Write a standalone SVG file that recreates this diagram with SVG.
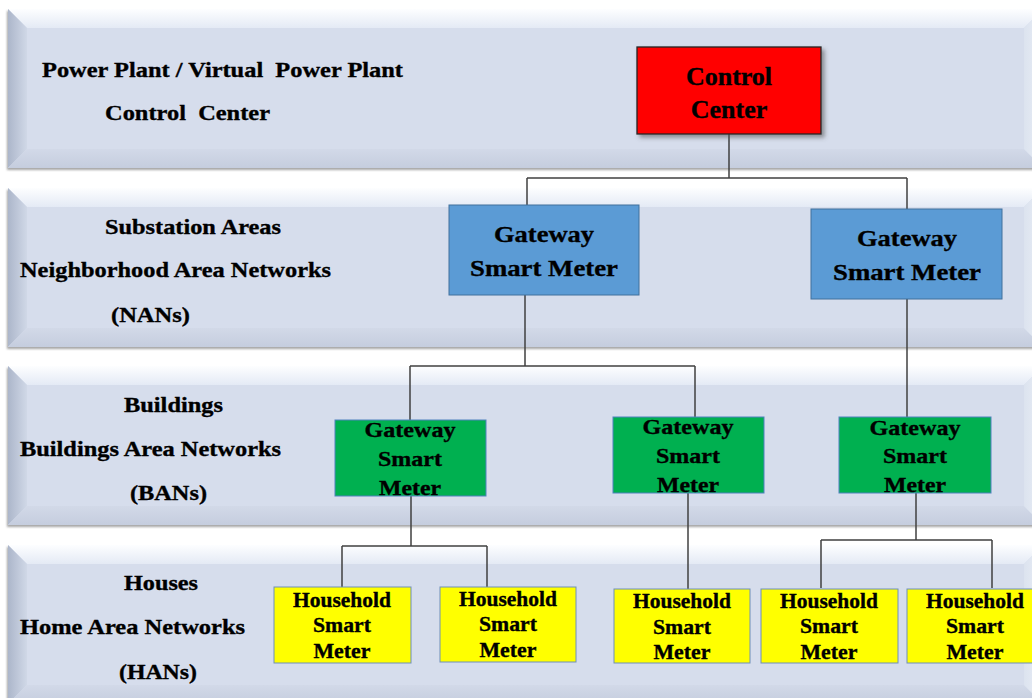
<svg xmlns="http://www.w3.org/2000/svg" width="1032" height="698" viewBox="0 0 1032 698">
  <defs>
    <linearGradient id="gTop" x1="0" y1="0" x2="0" y2="1">
      <stop offset="0" stop-color="#FDFEFF"/>
      <stop offset="1" stop-color="#E4EAF5"/>
    </linearGradient>
    <linearGradient id="gLeft" x1="0" y1="0" x2="1" y2="0">
      <stop offset="0" stop-color="#ACB6CA"/>
      <stop offset="1" stop-color="#D0D8E7"/>
    </linearGradient>
    <linearGradient id="gBottom" x1="0" y1="0" x2="0" y2="1">
      <stop offset="0" stop-color="#D2D9E8"/>
      <stop offset="1" stop-color="#C5CDDE"/>
    </linearGradient>
    <linearGradient id="gRight" x1="0" y1="0" x2="1" y2="0">
      <stop offset="0" stop-color="#DCE3EF"/>
      <stop offset="1" stop-color="#E9EEF6"/>
    </linearGradient>
    <filter id="bandShadow" x="-5%" y="-10%" width="110%" height="125%">
      <feDropShadow dx="-1" dy="2" stdDeviation="1" flood-color="#7F7F7F" flood-opacity="0.7"/>
    </filter>
    <filter id="boxShadow" x="-10%" y="-10%" width="125%" height="130%">
      <feDropShadow dx="3" dy="3" stdDeviation="2" flood-color="#555555" flood-opacity="0.6"/>
    </filter>
    <g id="band">
      <rect x="0" y="0" width="1035" height="159" fill="#D6DDEC" filter="url(#bandShadow)"/>
      <path d="M0,0 L1035,0 L1016,19 L19,19 Z" fill="url(#gTop)"/>
      <path d="M0,0 L19,19 L19,140 L0,159 Z" fill="url(#gLeft)"/>
      <path d="M0,159 L19,140 L1016,140 L1035,159 Z" fill="url(#gBottom)"/>
      <path d="M1035,0 L1035,159 L1016,140 L1016,19 Z" fill="url(#gRight)"/>
      <rect x="19" y="19" width="997" height="121" fill="#D6DDEC"/>
    </g>
  </defs>
  <style>
    .lbl { font-family: "Liberation Serif", "Times New Roman", serif; font-weight: bold; font-size: 22px; fill: #000; stroke: #000; stroke-width: 0.35px; white-space: pre; }
    .nt { font-family: "Liberation Serif", "Times New Roman", serif; font-weight: bold; fill: #000; stroke: #000; stroke-width: 0.35px; text-anchor: middle; }
    .cc { font-size: 26px; }
    .gb { font-size: 24px; }
    .gg { font-size: 22px; }
    .hh { font-size: 21.5px; }
    .red { fill: #FF0000; stroke: #262626; stroke-width: 1.3; }
    .blue { fill: #5B9BD5; stroke: #41719C; stroke-width: 1; }
    .green { fill: #00B050; stroke: #4F81BD; stroke-width: 1; }
    .yellow { fill: #FFFF00; stroke: #6F8FB8; stroke-width: 1; }
    .conn { fill: none; stroke: #404040; stroke-width: 1.5; }
  </style>

  <rect x="0" y="0" width="1032" height="698" fill="#FFFFFF"/>

  <g id="bands">
    <use href="#band" x="8" y="9"/>
    <use href="#band" x="8" y="188"/>
    <use href="#band" x="8" y="366"/>
    <use href="#band" x="8" y="545"/>
  </g>

  <g id="layer-labels">
    <text class="lbl" x="42" y="77" textLength="361" lengthAdjust="spacingAndGlyphs" xml:space="preserve">Power Plant / Virtual  Power Plant</text>
    <text class="lbl" x="105" y="120" textLength="165" lengthAdjust="spacingAndGlyphs" xml:space="preserve">Control  Center</text>
    <text class="lbl" x="105" y="234" textLength="176" lengthAdjust="spacingAndGlyphs">Substation Areas</text>
    <text class="lbl" x="20" y="277" textLength="311" lengthAdjust="spacingAndGlyphs">Neighborhood Area Networks</text>
    <text class="lbl" x="111" y="322" textLength="79" lengthAdjust="spacingAndGlyphs">(NANs)</text>
    <text class="lbl" x="124" y="412" textLength="99" lengthAdjust="spacingAndGlyphs">Buildings</text>
    <text class="lbl" x="20" y="456" textLength="261" lengthAdjust="spacingAndGlyphs">Buildings Area Networks</text>
    <text class="lbl" x="130" y="500" textLength="77" lengthAdjust="spacingAndGlyphs">(BANs)</text>
    <text class="lbl" x="124" y="590" textLength="74" lengthAdjust="spacingAndGlyphs">Houses</text>
    <text class="lbl" x="20" y="634" textLength="225" lengthAdjust="spacingAndGlyphs">Home Area Networks</text>
    <text class="lbl" x="119" y="679" textLength="78" lengthAdjust="spacingAndGlyphs">(HANs)</text>
  </g>

  <g id="connectors">
    <path class="conn" d="M729,134 V178 M527,178 H907 M527,178 V205 M907,178 V209"/>
    <path class="conn" d="M525,295 V366 M410,366 H695 M410,366 V420 M695,366 V417"/>
    <path class="conn" d="M907,299 V417"/>
    <path class="conn" d="M411,496 V546 M342,546 H487 M342,546 V587 M487,546 V587"/>
    <path class="conn" d="M688,493 V589"/>
    <path class="conn" d="M916,493 V540 M821,540 H992 M821,540 V588 M992,540 V588"/>
  </g>

  <g id="control-center">
    <rect class="red" x="637" y="47" width="184" height="87" filter="url(#boxShadow)"/>
    <text class="nt cc" x="729" y="85">Control</text>
    <text class="nt cc" x="729" y="118">Center</text>
  </g>

  <g id="gateway-nan-1">
    <rect class="blue" x="449" y="205" width="190" height="90"/>
    <text class="nt gb" x="544" y="242" textLength="100" lengthAdjust="spacingAndGlyphs">Gateway</text>
    <text class="nt gb" x="544" y="276" textLength="148" lengthAdjust="spacingAndGlyphs">Smart Meter</text>
  </g>
  <g id="gateway-nan-2">
    <rect class="blue" x="811" y="209" width="191" height="90"/>
    <text class="nt gb" x="907" y="246" textLength="100" lengthAdjust="spacingAndGlyphs">Gateway</text>
    <text class="nt gb" x="907" y="280" textLength="148" lengthAdjust="spacingAndGlyphs">Smart Meter</text>
  </g>

  <g id="gateway-ban-1">
    <rect class="green" x="335" y="420" width="151" height="76"/>
    <text class="nt gg" x="410" y="437" textLength="91" lengthAdjust="spacingAndGlyphs">Gateway</text>
    <text class="nt gg" x="410" y="466" textLength="64" lengthAdjust="spacingAndGlyphs">Smart</text>
    <text class="nt gg" x="410" y="495" textLength="62" lengthAdjust="spacingAndGlyphs">Meter</text>
  </g>
  <g id="gateway-ban-2">
    <rect class="green" x="613" y="417" width="151" height="76"/>
    <text class="nt gg" x="688" y="434" textLength="91" lengthAdjust="spacingAndGlyphs">Gateway</text>
    <text class="nt gg" x="688" y="463" textLength="64" lengthAdjust="spacingAndGlyphs">Smart</text>
    <text class="nt gg" x="688" y="492" textLength="62" lengthAdjust="spacingAndGlyphs">Meter</text>
  </g>
  <g id="gateway-ban-3">
    <rect class="green" x="839" y="417" width="152" height="76"/>
    <text class="nt gg" x="915" y="435" textLength="91" lengthAdjust="spacingAndGlyphs">Gateway</text>
    <text class="nt gg" x="915" y="463" textLength="64" lengthAdjust="spacingAndGlyphs">Smart</text>
    <text class="nt gg" x="915" y="492" textLength="62" lengthAdjust="spacingAndGlyphs">Meter</text>
  </g>

  <g id="household-1">
    <rect class="yellow" x="274" y="587" width="137" height="76"/>
    <text class="nt hh" x="342" y="607" textLength="98" lengthAdjust="spacingAndGlyphs">Household</text>
    <text class="nt hh" x="342" y="632" textLength="58" lengthAdjust="spacingAndGlyphs">Smart</text>
    <text class="nt hh" x="342" y="658" textLength="57" lengthAdjust="spacingAndGlyphs">Meter</text>
  </g>
  <g id="household-2">
    <rect class="yellow" x="440" y="587" width="136" height="75"/>
    <text class="nt hh" x="508" y="606" textLength="98" lengthAdjust="spacingAndGlyphs">Household</text>
    <text class="nt hh" x="508" y="631" textLength="58" lengthAdjust="spacingAndGlyphs">Smart</text>
    <text class="nt hh" x="508" y="657" textLength="57" lengthAdjust="spacingAndGlyphs">Meter</text>
  </g>
  <g id="household-3">
    <rect class="yellow" x="614" y="589" width="136" height="74"/>
    <text class="nt hh" x="682" y="608" textLength="98" lengthAdjust="spacingAndGlyphs">Household</text>
    <text class="nt hh" x="682" y="634" textLength="58" lengthAdjust="spacingAndGlyphs">Smart</text>
    <text class="nt hh" x="682" y="659" textLength="57" lengthAdjust="spacingAndGlyphs">Meter</text>
  </g>
  <g id="household-4">
    <rect class="yellow" x="761" y="589" width="137" height="74"/>
    <text class="nt hh" x="829" y="608" textLength="98" lengthAdjust="spacingAndGlyphs">Household</text>
    <text class="nt hh" x="829" y="633" textLength="58" lengthAdjust="spacingAndGlyphs">Smart</text>
    <text class="nt hh" x="829" y="659" textLength="57" lengthAdjust="spacingAndGlyphs">Meter</text>
  </g>
  <g id="household-5">
    <rect class="yellow" x="907" y="589" width="137" height="74"/>
    <text class="nt hh" x="975" y="608" textLength="98" lengthAdjust="spacingAndGlyphs">Household</text>
    <text class="nt hh" x="975" y="633" textLength="58" lengthAdjust="spacingAndGlyphs">Smart</text>
    <text class="nt hh" x="975" y="659" textLength="57" lengthAdjust="spacingAndGlyphs">Meter</text>
  </g>
</svg>
